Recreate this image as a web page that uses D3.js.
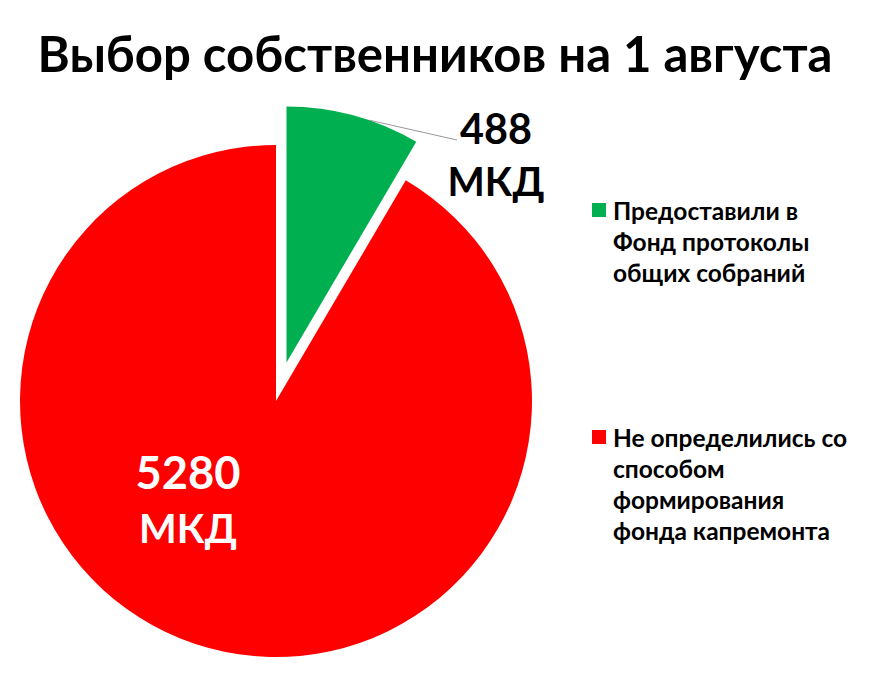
<!DOCTYPE html>
<html><head><meta charset="utf-8">
<script src="https://cdn.jsdelivr.net/npm/d3@7"></script>
<style>body{margin:0;background:#fff}svg{display:block}text{font-family:Lato,"Open Sans",sans-serif;font-weight:bold}</style>
</head><body>
<script>
const title = "Выбор собственников на 1 августа";
const categories = ["Предоставили в Фонд протоколы общих собраний", "Не определились со способом формирования фонда капремонта"];
const values = [488, 5280];
const unit = "МКД";
const colors = ["#00B050", "#FF0000"];
const legendLines = [["Предоставили в", "Фонд протоколы", "общих собраний"], ["Не определились со", "способом", "формирования", "фонда капремонта"]];

const W = 869, H = 684;
const svg = d3.select("body").append("svg").attr("width", W).attr("height", H);

function fit(sel, target) {
  const w = sel.node().getComputedTextLength();
  const fs = parseFloat(sel.attr("font-size"));
  sel.attr("font-size", fs * target / w);
}

const t = svg.append("text").attr("x", 435).attr("y", 72).attr("text-anchor", "middle")
  .attr("font-size", 50).attr("fill", "#000").text(title);
fit(t, 795);

const cx = 276, cy = 401, R = 256, explode = 40;
const pie = d3.pie().sort(null).value(d => d)(values);
const arc = d3.arc().innerRadius(0).outerRadius(R);
const g = svg.append("g").attr("transform", `translate(${cx},${cy})`);

pie.forEach((p, i) => {
  const mid = (p.startAngle + p.endAngle) / 2;
  const off = i === 0 ? explode : 0;
  const dx = off * Math.sin(mid), dy = -off * Math.cos(mid);
  g.append("path").attr("d", arc(p)).attr("fill", colors[i])
    .attr("transform", `translate(${dx},${dy})`);
});

// leader line for small slice
const p0 = pie[0];
const m0 = (p0.startAngle + p0.endAngle) / 2;
const ox = explode * Math.sin(m0), oy = -explode * Math.cos(m0);
const la = 0.33;
g.append("line")
  .attr("x1", ox + R * Math.sin(la)).attr("y1", oy - R * Math.cos(la))
  .attr("x2", 181).attr("y2", -261)
  .attr("stroke", "#999").attr("stroke-width", 1);

// data labels
const lab0 = svg.append("g");
[["488", 144], [unit, 196]].forEach(([s, y], k) => {
  const tx = lab0.append("text").attr("x", 496).attr("y", y).attr("text-anchor", "middle")
    .attr("font-size", 44).attr("fill", "#000").text(k === 0 ? String(values[0]) : s);
  fit(tx, k === 0 ? 72 : 97);
});
[[String(values[1]), 489, 105], [unit, 543, 98]].forEach(([s, y, w]) => {
  const tx = svg.append("text").attr("x", 188).attr("y", y).attr("text-anchor", "middle")
    .attr("font-size", 44).attr("fill", "#fff").text(s);
  fit(tx, w);
});

// legend
const legTop = [203, 430];
legendLines.forEach((lines, i) => {
  svg.append("rect").attr("x", 592).attr("y", legTop[i]).attr("width", 14).attr("height", 14).attr("fill", colors[i]);
  lines.forEach((ln, k) => {
    svg.append("text").attr("x", 613).attr("y", legTop[i] + 17 + k * 31)
      .attr("font-size", 24.5).attr("fill", "#000").text(ln);
  });
});
</script>
</body></html>
